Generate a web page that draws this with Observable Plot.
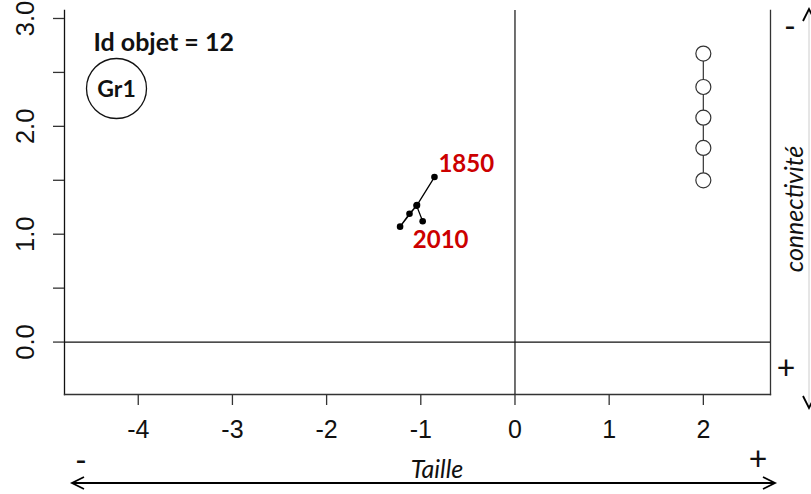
<!DOCTYPE html>
<html>
<head>
<meta charset="utf-8">
<script src="https://cdn.jsdelivr.net/npm/d3@7"></script>
<script src="https://cdn.jsdelivr.net/npm/@observablehq/plot@0.6"></script>
<style>
  html, body { margin: 0; padding: 0; background: #fff; }
  #chart svg { display: block; }
</style>
</head>
<body>
<div id="chart"></div>
<script>
// Trajectory of object 12 (Taille vs connectivité)
const years = [1850, 1900, 1950, 1980, 2000, 2010];
const taille = [-0.855, -1.04, -1.12, -1.22, -1.045, -0.98];
const connectivite = [1.53, 1.27, 1.19, 1.07, 1.265, 1.12];

// Reference column of open circles
const refX = [2, 2, 2, 2, 2];
const refY = [1.5, 1.8, 2.08, 2.365, 2.675];

// Axis ticks
const xTicks = [-4, -3, -2, -1, 0, 1, 2];
const yTicks = [0, 0.5, 1, 1.5, 2, 2.5, 3];

const objetId = 12;
const groupe = "Gr1";

const traj = years.map((yr, i) => ({year: yr, x: taille[i], y: connectivite[i]}));
const refs = refX.map((x, i) => ({x, y: refY[i]}));
const labelFirst = [traj[0]];
const labelLast = [traj[traj.length - 1]];

const W = 811, H = 494;
const axisFont = "Liberation Sans, Arial, sans-serif";
const textFont = "Lato, 'Open Sans', sans-serif";

const chart = Plot.plot({
  width: W,
  height: H,
  marginLeft: 64,
  marginRight: 41,
  marginTop: 10,
  marginBottom: 100,
  style: {fontFamily: axisFont, background: "white", overflow: "visible"},
  x: {domain: [-4.783, 2.713], label: null},
  y: {domain: [-0.486, 3.074], label: null},
  marks: [
    Plot.frame({anchor: "left", stroke: "#111", strokeWidth: 1.3}),
    Plot.frame({anchor: "right", stroke: "#333", strokeWidth: 1.3}),
    Plot.frame({anchor: "bottom", stroke: "#333", strokeWidth: 1.3}),
    Plot.ruleX([0], {stroke: "#111", strokeWidth: 1.2}),
    Plot.ruleY([0], {stroke: "#111", strokeWidth: 1.2}),
    Plot.axisX({
      ticks: xTicks, tickSize: 11, tickPadding: 15, fontSize: 25,
      tickFormat: d => String(d), stroke: "#333", strokeWidth: 1.3, fill: "#111", label: null
    }),
    Plot.axisY({
      ticks: yTicks, tickSize: 11, tickPadding: 20, fontSize: 25.5, tickRotate: -90,
      tickFormat: d => (d % 1 === 0 ? d.toFixed(1) : ""), stroke: "#333", strokeWidth: 1.3, fill: "#111", label: null
    }),
    // reference circles
    Plot.line(refs, {x: "x", y: "y", stroke: "#444", strokeWidth: 1.3}),
    Plot.dot(refs, {x: "x", y: "y", r: 7.5, fill: "white", stroke: "#333", strokeWidth: 1.2}),
    // trajectory
    Plot.line(traj, {x: "x", y: "y", stroke: "black", strokeWidth: 1.3}),
    Plot.dot(traj, {x: "x", y: "y", r: 3.3, fill: "black"}),
    Plot.text(labelFirst, {x: "x", y: "y", text: d => String(d.year), textAnchor: "start", dx: 4, dy: -13,
      fill: "#cc0000", fontWeight: "bold", fontSize: 24, fontFamily: textFont}),
    Plot.text(labelLast, {x: "x", y: "y", text: d => String(d.year), dx: 18, dy: 19,
      fill: "#cc0000", fontWeight: "bold", fontSize: 24, fontFamily: textFont}),
    // header annotations
    Plot.text([`Id objet = ${objetId}`], {frameAnchor: "top-left", dx: 29, dy: 32, textAnchor: "start",
      lineAnchor: "middle", fontWeight: "bold", fontSize: 25, fontFamily: textFont, fill: "#111"}),
    Plot.dot([groupe], {frameAnchor: "top-left", dx: 52, dy: 78, r: 30, stroke: "#111", fill: "none", strokeWidth: 1.3}),
    Plot.text([groupe], {frameAnchor: "top-left", dx: 52, dy: 79, textAnchor: "middle", lineAnchor: "middle",
      fontWeight: "bold", fontSize: 23, fontFamily: textFont, fill: "#111"})
  ]
});

document.getElementById("chart").appendChild(chart);

// Outer annotations: axis directions
const svg = d3.select(chart);
const g = svg.append("g").attr("font-family", textFont).attr("fill", "#111");

g.append("text").attr("x", 437).attr("y", 478).attr("text-anchor", "middle")
  .attr("font-style", "italic").attr("font-size", 25).text("Taille");
g.append("text").attr("x", 81).attr("y", 472).attr("text-anchor", "middle")
  .attr("font-size", 32).text("-");
g.append("text").attr("x", 758).attr("y", 470).attr("text-anchor", "middle")
  .attr("font-size", 32).text("+");
g.append("text").attr("x", 786).attr("y", 379).attr("text-anchor", "middle")
  .attr("font-size", 32).text("+");
g.append("text").attr("x", 790).attr("y", 38).attr("text-anchor", "middle")
  .attr("font-size", 32).text("-");
g.append("text").attr("transform", "translate(803,209) rotate(-90)").attr("text-anchor", "middle")
  .attr("font-style", "italic").attr("font-size", 25).text("connectivité");

// horizontal double arrow
const a = svg.append("g").attr("fill", "none").attr("stroke", "black").attr("stroke-width", 1.8);
a.append("line").attr("x1", 72).attr("y1", 483).attr("x2", 775).attr("y2", 483);
a.append("path").attr("d", "M84,477 L72,483 L84,489");
a.append("path").attr("d", "M763,477 L775,483 L763,489");
// vertical double arrow at right edge
a.append("line").attr("x1", 809).attr("y1", 9).attr("x2", 809).attr("y2", 408)
  .attr("stroke", "#ccc").attr("stroke-width", 1);
a.append("path").attr("d", "M803,21 L809,9 L815,21");
a.append("path").attr("d", "M803,396 L809,408 L815,396");
</script>
</body>
</html>
